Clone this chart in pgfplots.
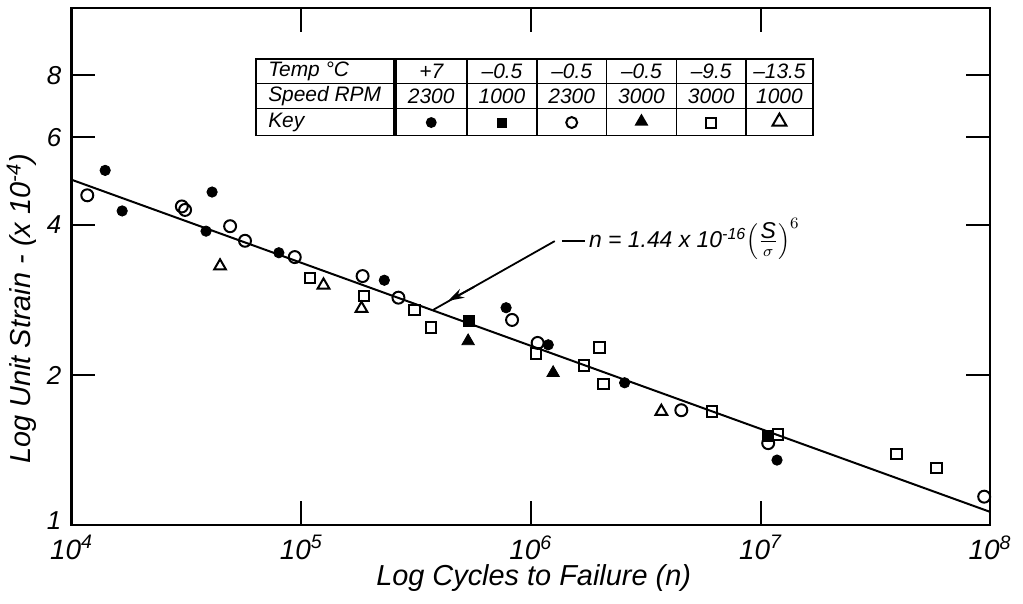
\documentclass[border=0pt]{standalone}
\usepackage{fontspec}
\setmainfont{Liberation Sans}
\usepackage{pgfplots}
\pgfplotsset{compat=1.18}
\usetikzlibrary{arrows.meta,shapes.geometric}

% fatigue data: unit strain (x 1e-4) against cycles to failure
\pgfplotstableread{
n       e
1.40e4  5.15
1.66e4  4.27
4.09e4  4.66
3.85e4  3.89
7.99e4  3.52
2.30e5  3.10
7.80e5  2.73
1.19e6  2.30
2.56e6  1.93
1.18e7  1.35
}\plusSeven
\pgfplotstableread{
n       e
5.38e5  2.57
1.08e7  1.51
}\minusHalfA
\pgfplotstableread{
n       e
1.17e4  4.59
3.12e4  4.29
3.02e4  4.36
4.90e4  3.98
5.69e4  3.72
9.37e4  3.45
1.85e5  3.16
2.65e5  2.86
8.28e5  2.58
1.07e6  2.32
4.52e6  1.70
1.08e7  1.46
9.42e7  1.14
}\minusHalfB
\pgfplotstableread{
n       e
5.33e5  2.34
1.25e6  2.02
}\minusHalfC
\pgfplotstableread{
n       e
1.09e5  3.13
1.88e5  2.88
3.11e5  2.70
3.68e5  2.49
1.05e6  2.21
1.99e6  2.27
1.70e6  2.09
2.07e6  1.92
6.16e6  1.69
1.19e7  1.52
3.91e7  1.39
5.83e7  1.30
}\minusNineHalf
\pgfplotstableread{
n       e
4.43e4  3.31
1.25e5  3.03
1.83e5  2.72
3.70e6  1.69
}\minusThirteenHalf

\begin{document}
\begin{tikzpicture}
% page frame in drawing units (1 unit = 0.5pt)
\begin{scope}[x=0.5pt,y=-0.5pt,shift={(-34pt,263.5pt)}]
\path[use as bounding box] (0,0) rectangle (1023,606);
\end{scope}

\begin{axis}[
  at={(0,0)}, anchor=south west,
  scale only axis, width=461pt, height=259.5pt,
  xmode=log, ymode=log,
  xmin=1e4, xmax=1e8, ymin=1, ymax=10.91,
  xtick={1e4,1e5,1e6,1e7,1e8},
  xticklabels={10\textsuperscript{4},10\textsuperscript{5},10\textsuperscript{6},10\textsuperscript{7},10\textsuperscript{8}},
  ytick={1,2,4,6,8}, yticklabels={\raisebox{4pt}{1},2,4,6,8},
  xminorticks=false, yminorticks=false,
  tick align=inside, major tick length=12pt, tick pos=both,
  axis line style={line width=1.2pt},
  every tick/.style={black, line width=1pt},
  /pgf/number format/assume math mode=true,
  xticklabel style={font=\fontsize{14}{16}\selectfont\itshape, inner sep=1pt, yshift=-4pt},
  yticklabel style={font=\fontsize{13}{15}\selectfont\itshape, inner sep=1pt, xshift=-4pt},
  xlabel={Log Cycles to Failure (n)},
  ylabel={Log Unit Strain - (x 10\textsuperscript{-4})},
  label style={font=\fontsize{14.5}{17}\selectfont\itshape},
  xlabel style={at={(axis description cs:0.503,0)}, anchor=center, yshift=-26.5pt},
  ylabel style={at={(axis description cs:0,0.418)}, anchor=center, rotate=0, yshift=25pt},
]
% fitted curve n = 1.44e-16 (S/sigma)^6
\addplot[black, line width=1pt] coordinates {(1e4,4.932) (1e8,1.0626)};
\addplot[only marks, mark=*, mark size=2.6pt, black] table {\plusSeven};
\addplot[only marks, mark=square*, mark size=2.7pt, black] table {\minusHalfA};
\addplot[only marks, mark=o, mark size=3pt, black, line width=1pt] table {\minusHalfB};
\addplot[only marks, mark=triangle*, mark size=3.6pt, black] table {\minusHalfC};
\addplot[only marks, mark=square, mark size=2.6pt, black, line width=1pt] table {\minusNineHalf};
\addplot[only marks, mark=triangle, mark size=3.4pt, black, line width=1pt] table {\minusThirteenHalf};
\end{axis}

\begin{scope}[x=0.5pt,y=-0.5pt,shift={(-34pt,263.5pt)}]
% equation callout
\draw[line width=0.9pt] (553,242) -- (431,311);
\draw[line width=0.9pt, -{Stealth[length=8pt,width=5pt]}] (472,288) -- (446,302);
\draw[line width=0.9pt] (560,242) -- (583,242);
\node[anchor=west, inner sep=1pt, font=\fontsize{11.5}{14}\selectfont\itshape] at (585,240)
  {n = 1.44 x 10\textsuperscript{-16}$\left(\frac{\textit{S}}{\sigma}\right)^{6}$};

% key table
\draw[line width=0.9pt] (253,59) rectangle (812,136);
\draw[line width=0.8pt] (253,84) -- (812,84) (253,109) -- (812,109);
\draw[line width=2pt] (393,59) -- (393,136);
\foreach \c in {465,535,605,675,745} \draw[line width=0.8pt] (\c,59) -- (\c,136);
\begin{scope}[every node/.style={font=\fontsize{10.5}{12}\selectfont\itshape, inner sep=0pt}]
\node[anchor=west] at (265,71.5) {Temp °C};
\node[anchor=west] at (265,96.5) {Speed RPM};
\node[anchor=west] at (265,122.5) {Key};
\node at (429,71.5) {+7};
\node at (500,71.5) {–0.5};
\node at (570,71.5) {–0.5};
\node at (640,71.5) {–0.5};
\node at (710,71.5) {–9.5};
\node at (778.5,71.5) {–13.5};
\node at (429,96.5) {2300};
\node at (500,96.5) {1000};
\node at (570,96.5) {2300};
\node at (640,96.5) {3000};
\node at (710,96.5) {3000};
\node at (778.5,96.5) {1000};
\end{scope}
\node[circle, fill=black, inner sep=0pt, minimum size=5.5pt] at (429,123) {};
\node[fill=black, inner sep=0pt, minimum size=5pt] at (500,123) {};
\node[circle, draw=black, line width=1pt, inner sep=0pt, minimum size=5.5pt] at (570,123) {};
\node[regular polygon, regular polygon sides=3, fill=black, inner sep=0pt, minimum size=8pt] at (640,122) {};
\node[draw=black, line width=1pt, inner sep=0pt, minimum size=5pt] at (710,123) {};
\node[regular polygon, regular polygon sides=3, draw=black, line width=1pt, inner sep=0pt, minimum size=8pt] at (778.5,122) {};
\end{scope}
\end{tikzpicture}
\end{document}
